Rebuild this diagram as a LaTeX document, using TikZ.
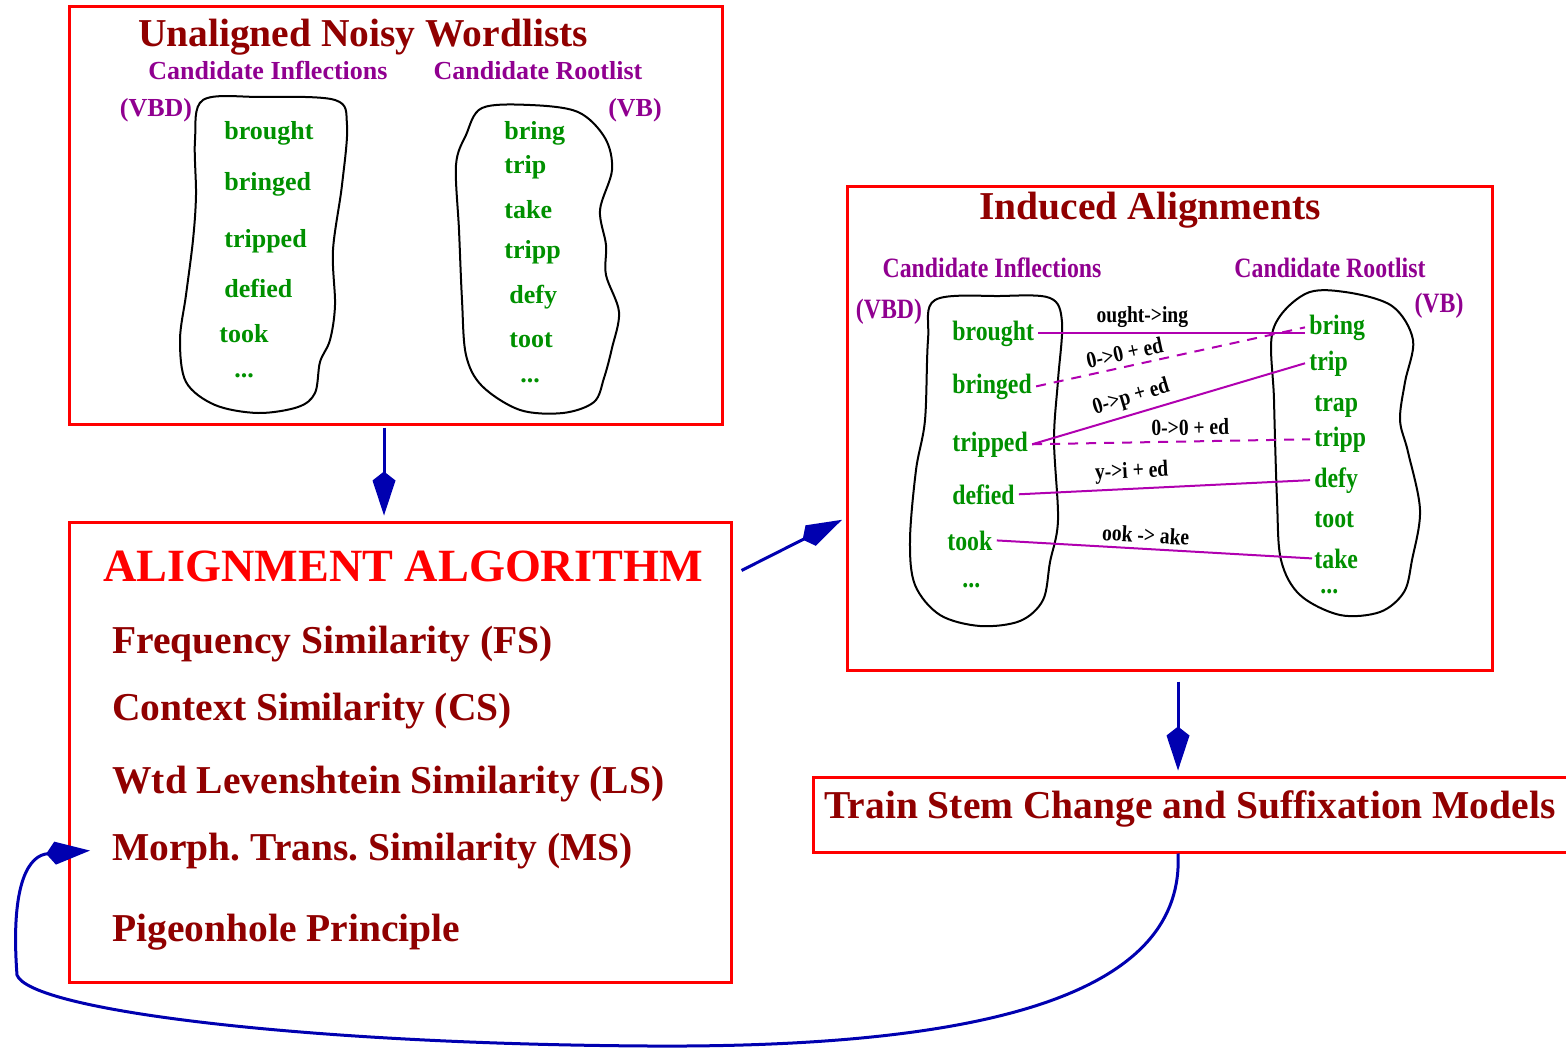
\documentclass[tikz,border=0pt]{standalone}
\usepackage{fontspec}
\setmainfont{Liberation Serif}
\newfontface\narrowbold{Liberation Serif Bold}[FakeStretch=0.85]
\usetikzlibrary{arrows.meta}
\definecolor{boxred}{HTML}{FF0000}
\definecolor{titlered}{HTML}{900000}
\definecolor{tagpurple}{HTML}{900090}
\definecolor{wordgreen}{HTML}{009000}
\definecolor{linkmagenta}{HTML}{B000B0}
\definecolor{flowblue}{HTML}{0000B0}
\frenchspacing

\begin{document}
\begin{tikzpicture}[
  x=0.5pt,
  y=-0.5pt,
  frame/.style={
    draw=boxred,
    line width=1.5pt,
    inner sep=0pt
  },
  heading/.style={font=\fontsize{19.75}{22}\selectfont\bfseries, text=titlered, anchor=base, inner sep=0pt},
  entry/.style={heading, anchor=base west},
  tag/.style={font=\fontsize{13}{15}\selectfont\bfseries, text=tagpurple, anchor=base, inner sep=0pt},
  word/.style={font=\fontsize{13}{15}\selectfont\bfseries, text=wordgreen, anchor=base west, inner sep=1.5pt},
  ntag/.style={font=\fontsize{14}{16}\narrowbold, text=tagpurple, anchor=base, inner sep=0pt},
  nword/.style={font=\fontsize{14}{16}\narrowbold, text=wordgreen, anchor=base west, inner sep=2pt},
  blob/.style={draw=black, line width=1pt},
  link/.style={draw=linkmagenta, line width=1pt},
  guess/.style={link, dashed, dash pattern=on 5pt off 4pt},
  change/.style={font=\fontsize{11.5}{13}\narrowbold, text=black, above, sloped, inner sep=2.5pt},
  flow/.style={-{Kite[length=22pt,width=11.5pt,inset=4.5pt]}, line width=1.5pt, draw=flowblue}
]
\useasboundingbox (0,0) rectangle (1566,1048);

% Unaligned noisy wordlists
\node[frame, minimum width=326.5pt, minimum height=208.5pt] (listbox) at (395.5,215.5) {};
\node[heading] (listtitle) at (363,47) {Unaligned Noisy Wordlists};
\node[tag] (listinfl) at (268,80) {Candidate Inflections};
\node[tag] (listroot) at (538,80) {Candidate Rootlist};
\node[tag] (listvbd) at (156,117) {(VBD)};
\node[tag] (listvb) at (635,117) {(VB)};

\draw[blob] plot[smooth cycle, tension=0.55] coordinates {
  (203,100) (260,97) (335,100) (347,125) (342,185) (333,250) (335,305)
  (330,340) (320,362) (315,393) (298,407) (258,413) (215,405) (186,382)
  (180,340) (186,295) (193,240) (196,195) (195,140)};
\draw[blob] plot[smooth cycle, tension=0.55] coordinates {
  (482,108) (530,105) (578,112) (605,138) (612,170) (600,210) (606,245)
  (606,275) (619,312) (612,348) (604,378) (594,402) (563,413) (520,410)
  (482,386) (466,355) (462,300) (459,230) (456,165) (466,135)};

\node[word] (lbrought) at (221,140) {brought};
\node[word] (lbringed) at (221,191) {bringed};
\node[word] (ltripped) at (221,247) {tripped};
\node[word] (ldefied) at (221,297) {defied};
\node[word] (ltook) at (216,342) {took};
\node[word, inner sep=0pt] (lmore) at (234,377) {...};
\node[word] (rbring) at (501,140) {bring};
\node[word] (rtrip) at (501,174) {trip};
\node[word] (rtake) at (501,219) {take};
\node[word] (rtripp) at (501,258) {tripp};
\node[word] (rdefy) at (506,303) {defy};
\node[word] (rtoot) at (506,347) {toot};
\node[word, inner sep=0pt] (rmore) at (520,382) {...};

% Alignment algorithm
\node[frame, minimum width=331pt, minimum height=230pt] (algbox) at (400,752) {};
\node[font=\fontsize{23.1}{26}\selectfont\bfseries, text=boxred, anchor=base, inner sep=0pt] (algtitle) at (403,581) {ALIGNMENT ALGORITHM};
\node[entry] (freq) at (112,653) {Frequency Similarity (FS)};
\node[entry] (context) at (112,720) {Context Similarity (CS)};
\node[entry] (leven) at (112,793) {Wtd Levenshtein Similarity (LS)};
\node[entry] (morph) at (112,860) {Morph. Trans. Similarity (MS)};
\node[entry] (pigeon) at (112,941) {Pigeonhole Principle};

% Induced alignments
\node[frame, minimum width=322.5pt, minimum height=241.5pt] (alignbox) at (1169.5,428.5) {};
\node[heading] (aligntitle) at (1150,220) {Induced Alignments};
\node[ntag] (aligninfl) at (992,277) {Candidate Inflections};
\node[ntag] (alignroot) at (1330,277) {Candidate Rootlist};
\node[ntag] (alignvbd) at (889,318) {(VBD)};
\node[ntag] (alignvb) at (1439,312) {(VB)};

\draw[blob] plot[smooth cycle, tension=0.55] coordinates {
  (935,300) (1000,296) (1050,298) (1062,322) (1058,380) (1054,440)
  (1058,520) (1050,562) (1043,600) (1020,621) (980,626) (940,615)
  (915,585) (910,540) (916,470) (925,420) (928,340)};
\draw[blob] plot[smooth cycle, tension=0.55] coordinates {
  (1305,294) (1345,292) (1392,306) (1413,340) (1405,382) (1400,420)
  (1408,452) (1420,510) (1412,560) (1404,592) (1380,612) (1340,615)
  (1300,595) (1281,560) (1277,500) (1274,400) (1273,330)};

\node[nword] (abrought) at (948,340) {brought};
\node[nword] (abringed) at (948,393) {bringed};
\node[nword] (atripped) at (948,451) {tripped};
\node[nword] (adefied) at (948,504) {defied};
\node[nword] (atook) at (943,550) {took};
\node[nword, inner sep=0pt] (amore) at (962,587) {...};
\node[nword] (abring) at (1305,334) {bring};
\node[nword] (atrip) at (1305,370) {trip};
\node[nword] (atrap) at (1310,411) {trap};
\node[nword] (atripp) at (1310,446) {tripp};
\node[nword] (adefy) at (1310,487) {defy};
\node[nword] (atoot) at (1310,527) {toot};
\node[nword, inner sep=1pt] (atake) at (1312,568) {take};
\node[nword, inner sep=0pt] (amoreb) at (1320,593) {...};

\draw[link] (abrought.east) -- node[change, pos=0.39] {ought->ing} (abrought.east -| abring.west);
\draw[guess] (abringed.east) -- node[change, pos=0.34] {0->0 + ed} (abring.west);
\draw[link] (atripped.east) -- node[change, pos=0.38] {0->p + ed} (atrip.west);
\draw[guess] (atripped.east) -- node[change, pos=0.57] {0->0 + ed} (atripp.west);
\draw[link] (adefied.east) -- node[change, pos=0.39] {y->i + ed} (adefy.west);
\draw[link] (atook.east) -- node[change, pos=0.47] {ook -> ake} (atake.west);

% Training models
\node[frame, minimum width=378.5pt, minimum height=37.5pt] (trainbox) at (1191.5,814.5) {};
\node[heading] (traintitle) at (1190,818) {Train Stem Change and Suffixation Models};

% Flow between stages
\draw[flow, shorten <=1pt, shorten >=2.5pt] ([xshift=-5.75pt]listbox.south) -- ([xshift=-5.75pt]listbox.south |- algbox.north);
\draw[flow, shorten >=2pt] ([shift={(4.5pt,-25pt)}]algbox.north east) -- ([yshift=-44.75pt]alignbox.west);
\draw[flow, shorten <=5pt, shorten >=2.5pt] ([xshift=4.25pt]alignbox.south) -- ([xshift=4.25pt]alignbox.south |- trainbox.north);
\draw[flow] ([xshift=-6.75pt]trainbox.south) .. controls (1185,990) and (1000,1048) .. (650,1046)
  .. controls (300,1044) and (30,1010) .. (17,975) .. controls (10,880) and (30,855) .. ([xshift=-11pt]morph.west);

\end{tikzpicture}
\end{document}
